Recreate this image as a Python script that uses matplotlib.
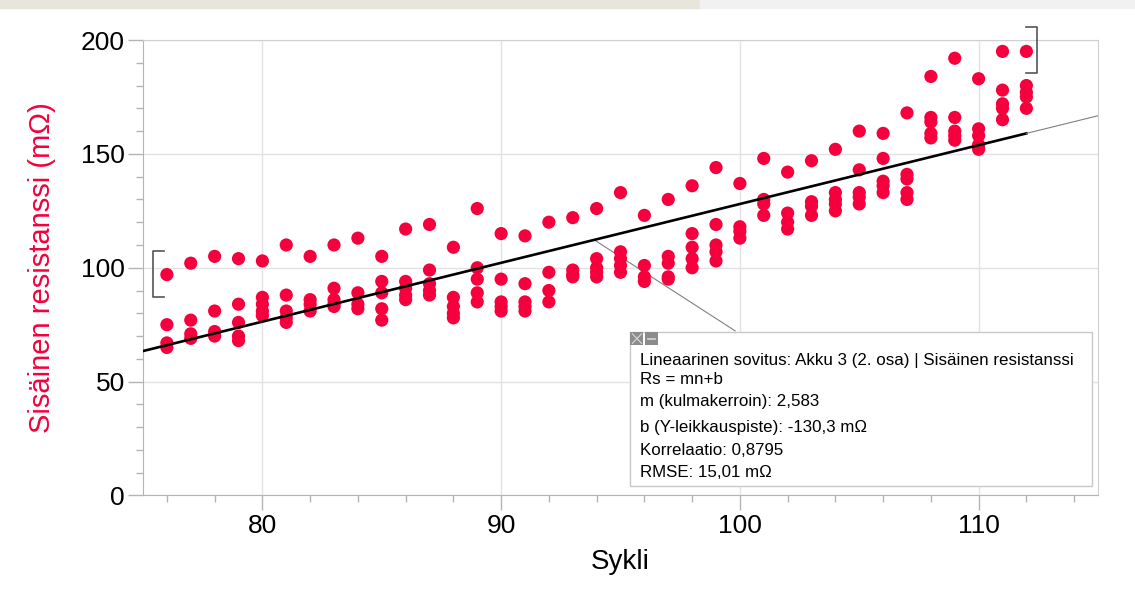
import matplotlib.pyplot as plt
import numpy as np
from matplotlib.patches import Rectangle
from matplotlib.ticker import MultipleLocator

plt.rcParams["font.family"] = ["Liberation Sans", "DejaVu Sans"]

RED = "#f5003c"
GRID = "#e2e2e2"
SPINE = "#b4b4b4"

cycles = list(range(76, 113))
resistance = [
    [97, 75, 67, 65],
    [102, 77, 71, 69],
    [105, 81, 72, 70],
    [104, 84, 76, 70, 68],
    [103, 87, 84, 81, 79],
    [110, 88, 81, 78, 76],
    [105, 86, 84, 81],
    [110, 91, 86, 84, 83],
    [113, 89, 84, 82],
    [105, 94, 89, 82, 77],
    [117, 94, 91, 88, 86],
    [119, 99, 93, 90, 88],
    [109, 87, 83, 80, 78],
    [126, 100, 95, 89, 85],
    [115, 95, 85, 83, 81],
    [114, 93, 85, 83, 81],
    [120, 98, 90, 85],
    [122, 99, 97, 96],
    [126, 104, 100, 98, 96],
    [133, 107, 104, 101, 98],
    [123, 101, 96, 94],
    [130, 105, 102, 96, 95],
    [136, 115, 109, 104, 100],
    [144, 119, 110, 107, 103],
    [137, 118, 116, 113],
    [148, 130, 128, 123],
    [142, 124, 120, 117],
    [147, 129, 127, 123],
    [152, 133, 130, 128, 125],
    [160, 143, 133, 131, 128],
    [159, 148, 138, 136, 133],
    [168, 141, 139, 133, 130],
    [184, 166, 164, 159, 157],
    [192, 166, 160, 158, 156],
    [183, 161, 158, 154, 152],
    [195, 178, 172, 170, 165],
    [195, 180, 177, 175, 170],
]

# linear fit reported by the analysis software
slope = 2.583
intercept = -130.3
fit_lines = [
    "Lineaarinen sovitus: Akku 3 (2. osa) | Sisäinen resistanssi",
    "Rs = mn+b",
    "m (kulmakerroin): 2,583",
    "b (Y-leikkauspiste): -130,3 mΩ",
    "Korrelaatio: 0,8795",
    "RMSE: 15,01 mΩ",
]

xs = [c for c, vals in zip(cycles, resistance) for _ in vals]
ys = [v for vals in resistance for v in vals]

fig = plt.figure(figsize=(11.35, 5.91), dpi=100, facecolor="white")
ax = fig.add_axes([0.126, 0.1616, 0.8414, 0.7707])

# screenshot frame strip along the top
fig.patches.append(Rectangle((0, 0.986), 0.617, 0.014, transform=fig.transFigure,
                             color="#e8e5dc", zorder=0))
fig.patches.append(Rectangle((0.617, 0.986), 0.383, 0.014, transform=fig.transFigure,
                             color="#f1f1f1", zorder=0))

ax.set_xlim(75, 115)
ax.set_ylim(0, 200)
ax.xaxis.set_major_locator(MultipleLocator(10))
ax.xaxis.set_minor_locator(MultipleLocator(2))
ax.yaxis.set_major_locator(MultipleLocator(50))
ax.yaxis.set_minor_locator(MultipleLocator(10))
ax.grid(True, which="major", color=GRID, linewidth=1.0, zorder=0)
ax.tick_params(which="major", length=11, width=1, color=SPINE, labelsize=19, pad=2)
ax.tick_params(which="minor", length=5, width=1, color=SPINE)
for side, spine in ax.spines.items():
    spine.set_color(SPINE if side in ("left", "bottom") else "#d0d0d0")

ax.scatter(xs, ys, s=90, color=RED, edgecolors="none", zorder=3)

x_fit = np.array([75, 112])
ax.plot(x_fit, slope * x_fit + intercept, color="black", linewidth=1.9, zorder=4)
x_ext = np.array([112, 115])
ax.plot(x_ext, slope * x_ext + intercept, color="#808080", linewidth=0.8, zorder=4)

# leader line from fit to the info box
ax.plot([93.9, 99.8], [slope * 93.9 + intercept, 72.3], color="#808080",
        linewidth=0.8, zorder=2)

# brackets marking the points
ax.plot([75.88, 75.42, 75.42, 75.88], [107.3, 107.3, 87.0, 87.0],
        color="#555555", linewidth=1.2, clip_on=False, zorder=5)
ax.plot([112.0, 112.44, 112.44, 112.0], [205.5, 205.5, 185.5, 185.5],
        color="#555555", linewidth=1.2, clip_on=False, zorder=5)

# info box
bx0, by0, bx1, by1 = 0.5104, 0.0215, 0.9937, 0.359
ax.add_patch(Rectangle((bx0, by0), bx1 - bx0, by1 - by0, transform=ax.transAxes,
                       facecolor="white", edgecolor="#c8c8c8", linewidth=1.0, zorder=6))
iw, ih = 0.0136, 0.029
ax.add_patch(Rectangle((bx0, by1 - ih), iw, ih, transform=ax.transAxes,
                       facecolor="#8c8c8c", edgecolor="none", zorder=7))
ax.add_patch(Rectangle((bx0 + iw + 0.002, by1 - ih), iw, ih, transform=ax.transAxes,
                       facecolor="#8c8c8c", edgecolor="none", zorder=7))
ax.plot([bx0 + 0.002, bx0 + iw - 0.002], [by1 - ih + 0.004, by1 - 0.004],
        transform=ax.transAxes, color="#d8d8d8", linewidth=0.8, zorder=8)
ax.plot([bx0 + 0.002, bx0 + iw - 0.002], [by1 - 0.004, by1 - ih + 0.004],
        transform=ax.transAxes, color="#d8d8d8", linewidth=0.8, zorder=8)
ax.plot([bx0 + iw + 0.005, bx0 + 2 * iw - 0.001], [by1 - ih / 2, by1 - ih / 2],
        transform=ax.transAxes, color="#d8d8d8", linewidth=1.2, zorder=8)

line_y = [0.297, 0.255, 0.206, 0.150, 0.0995, 0.050]
for txt, yy in zip(fit_lines, line_y):
    ax.text(0.5204, yy, txt, transform=ax.transAxes, fontsize=12.2,
            va="center", ha="left", zorder=9)

ax.set_xlabel("Sykli", fontsize=20, labelpad=8)
ax.set_ylabel("Sisäinen resistanssi (mΩ)", fontsize=21, color=RED, labelpad=18)

fig.savefig("out.png", dpi=100, facecolor="white")
